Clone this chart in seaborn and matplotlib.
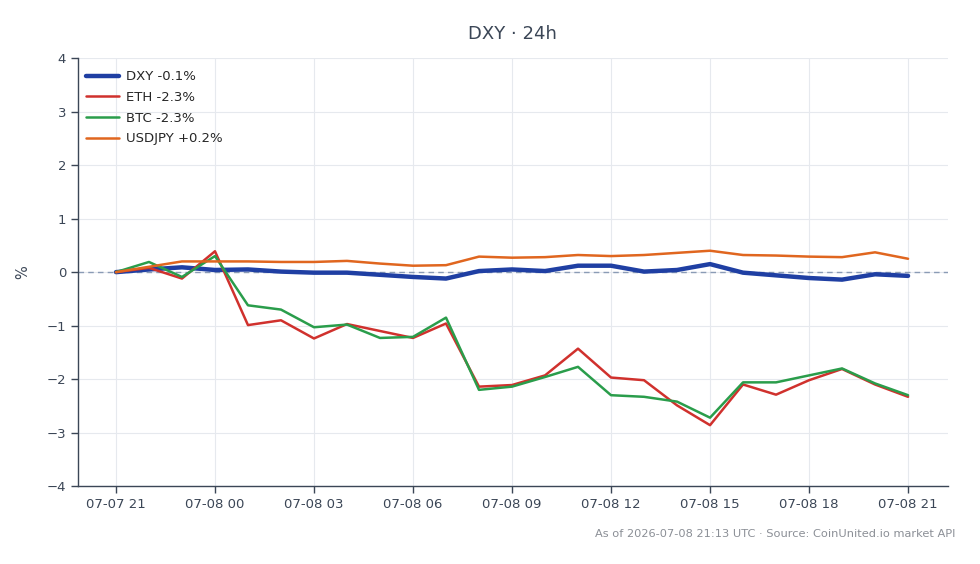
import pandas as pd
import matplotlib.pyplot as plt
import matplotlib.dates as mdates
import seaborn as sns

# hourly timestamps, 07-07 21:00 -> 07-08 21:00
times = pd.date_range("2026-07-07 21:00", periods=25, freq="h")

# % change since start
dxy = [0.00, 0.05, 0.09, 0.04, 0.05, 0.01, -0.01, -0.01, -0.05, -0.09,
       -0.12, 0.02, 0.05, 0.02, 0.12, 0.12, 0.01, 0.04, 0.15, -0.01,
       -0.06, -0.11, -0.14, -0.04, -0.07]
eth = [0.00, 0.08, -0.12, 0.39, -0.99, -0.90, -1.24, -0.97, -1.10, -1.23,
       -0.96, -2.14, -2.11, -1.93, -1.43, -1.97, -2.02, -2.49, -2.86, -2.10,
       -2.29, -2.02, -1.81, -2.10, -2.33]
btc = [0.00, 0.19, -0.09, 0.30, -0.62, -0.70, -1.03, -0.98, -1.23, -1.21,
       -0.85, -2.20, -2.14, -1.96, -1.77, -2.30, -2.33, -2.42, -2.72, -2.06,
       -2.06, -1.93, -1.80, -2.08, -2.30]
usdjpy = [0.00, 0.10, 0.20, 0.20, 0.20, 0.19, 0.19, 0.21, 0.16, 0.12,
          0.13, 0.29, 0.27, 0.28, 0.32, 0.30, 0.32, 0.36, 0.40, 0.32,
          0.31, 0.29, 0.28, 0.37, 0.25]

labels = ["DXY -0.1%", "ETH -2.3%", "BTC -2.3%", "USDJPY +0.2%"]
colors = ["#1f3fa3", "#d0312d", "#2a9d4b", "#e0661f"]
widths = [3.2, 1.8, 1.8, 1.8]

text_col = "#3b4656"

sns.set_style("white")
plt.rcParams['font.family'] = ['DejaVu Sans']

fig = plt.figure(figsize=(9.8, 5.64), dpi=100)
ax = fig.add_axes([0.0796, 0.138, 0.8874, 0.759])

ax.axhline(0, color="#8a9bb5", lw=1, ls=(0, (4, 3)), zorder=1)

for vals, lab, c, w in zip([dxy, eth, btc, usdjpy], labels, colors, widths):
    df = pd.DataFrame({"time": times, "pct": vals})
    sns.lineplot(data=df, x="time", y="pct", ax=ax, color=c, lw=w,
                 label=lab, zorder=3)

ax.set_ylim(-4, 4)
ax.set_xlim(times[0] - pd.Timedelta(minutes=69), times[-1] + pd.Timedelta(minutes=72))
ax.xaxis.set_major_locator(mdates.HourLocator(byhour=range(0, 24, 3)))
ax.xaxis.set_major_formatter(mdates.DateFormatter("%m-%d %H"))

ax.grid(True, color="#e6e9ee", lw=0.8)
ax.set_axisbelow(True)
for s in ["top", "right"]:
    ax.spines[s].set_visible(False)
for s in ["left", "bottom"]:
    ax.spines[s].set_color(text_col)
    ax.spines[s].set_linewidth(1.0)
ax.tick_params(axis="both", colors=text_col, labelsize=9.5, length=5,
               width=1, labelcolor=text_col, left=True, bottom=True)

ax.set_xlabel("")
ax.set_ylabel("%", color=text_col, fontsize=10.5, labelpad=12)
ax.set_title("DXY · 24h", color=text_col, fontsize=13, pad=14)

leg = ax.legend(loc="upper left", bbox_to_anchor=(0.0, 0.99), frameon=False,
                fontsize=9.5, handlelength=2.5, handletextpad=0.5,
                borderaxespad=0.2, labelspacing=0.58)

fig.text(0.975, 0.044, "As of 2026-07-08 21:13 UTC · Source: CoinUnited.io market API",
         ha="right", va="bottom", color="#8b8f96", fontsize=8.2)

fig.savefig("out.png", dpi=100)
